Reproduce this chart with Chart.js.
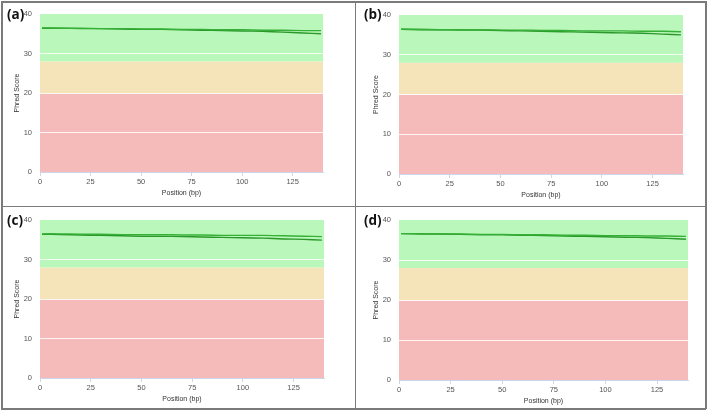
<!DOCTYPE html>
<html>
<head>
<meta charset="utf-8">
<script src="https://cdn.jsdelivr.net/npm/chart.js@4/dist/chart.umd.min.js"></script>
<style>
  html, body { margin: 0; padding: 0; background: #fff; }
  #fig { position: relative; width: 708px; height: 412px; overflow: hidden; }
  .panel { position: absolute; }
  .line { position: absolute; background: #7a7a7a; z-index: 5; }
  .tag { position: absolute; z-index: 6; font: bold 13.5px "Open Sans", "DejaVu Sans", sans-serif; color: #111; line-height: 14px; }
</style>
</head>
<body>
<div id="fig">
  <div class="panel" style="left:0;top:0;width:355px;height:206px"><canvas id="cA"></canvas></div>
  <div class="panel" style="left:355px;top:0;width:353px;height:206px"><canvas id="cB"></canvas></div>
  <div class="panel" style="left:0;top:206px;width:355px;height:206px"><canvas id="cC"></canvas></div>
  <div class="panel" style="left:355px;top:206px;width:353px;height:206px"><canvas id="cD"></canvas></div>

  <div class="line" style="left:1px;top:1px;width:705px;height:1.5px"></div>
  <div class="line" style="left:1px;top:408px;width:705px;height:1.5px"></div>
  <div class="line" style="left:1px;top:1px;width:1.5px;height:408px"></div>
  <div class="line" style="left:705px;top:1px;width:1.5px;height:408px"></div>
  <div class="line" style="left:354.5px;top:1px;width:1.5px;height:408px"></div>
  <div class="line" style="left:1px;top:205.5px;width:705px;height:1.5px"></div>

  <div class="tag" style="left:7px;top:7px">(a)</div>
  <div class="tag" style="left:364px;top:7px">(b)</div>
  <div class="tag" style="left:7px;top:213px">(c)</div>
  <div class="tag" style="left:364px;top:213px">(d)</div>
</div>
<script>
// positions along the read (bp)
const positions = [1, 10, 20, 30, 40, 50, 60, 70, 80, 90, 100, 110, 120, 130, 139];
const xTicks = [0, 25, 50, 75, 100, 125];
const yTicks = [0, 10, 20, 30, 40];

// mean phred score per position, two reads per panel
const aR1 = [36.5, 36.4, 36.4, 36.3, 36.3, 36.2, 36.2, 36.1, 36.1, 36.0, 36.0, 35.9, 35.9, 35.8, 35.8];
const aR2 = [36.4, 36.4, 36.3, 36.3, 36.2, 36.1, 36.1, 36.0, 35.9, 35.8, 35.7, 35.6, 35.4, 35.2, 35.0];
const bR1 = [36.4, 36.4, 36.3, 36.3, 36.3, 36.2, 36.2, 36.1, 36.1, 36.0, 36.0, 36.0, 35.9, 35.9, 35.8];
const bR2 = [36.4, 36.3, 36.3, 36.2, 36.2, 36.1, 36.0, 35.9, 35.8, 35.7, 35.6, 35.5, 35.4, 35.2, 35.0];
const cR1 = [36.5, 36.5, 36.4, 36.4, 36.3, 36.3, 36.3, 36.2, 36.2, 36.1, 36.1, 36.1, 36.0, 35.9, 35.8];
const cR2 = [36.4, 36.3, 36.2, 36.1, 36.0, 35.9, 35.9, 35.8, 35.7, 35.6, 35.5, 35.4, 35.2, 35.1, 34.9];
const dR1 = [36.6, 36.6, 36.5, 36.5, 36.4, 36.4, 36.3, 36.3, 36.2, 36.2, 36.1, 36.1, 36.0, 36.0, 35.9];
const dR2 = [36.6, 36.5, 36.5, 36.4, 36.3, 36.3, 36.2, 36.1, 36.0, 35.9, 35.8, 35.7, 35.6, 35.4, 35.2];

// quality zones (phred)
const bandEdges = [0, 20, 28, 40];
const BAND_COLORS = ['#f5baba', '#f5e3ba', '#baf7ba'];

const bandsPlugin = {
  id: 'bands',
  beforeDraw(chart) {
    const { ctx, chartArea, scales } = chart;
    const y = scales.y;
    ctx.save();
    for (let i = 0; i < bandEdges.length - 1; i++) {
      const top = y.getPixelForValue(bandEdges[i + 1]);
      const bot = y.getPixelForValue(bandEdges[i]);
      ctx.fillStyle = BAND_COLORS[i];
      ctx.fillRect(chartArea.left, top, chartArea.right - chartArea.left, bot - top);
    }
    ctx.restore();
  }
};

const TICK_FONT = { family: '"Liberation Sans", Arial, sans-serif', size: 7.5 };
const TITLE_FONT = { family: '"Liberation Sans", Arial, sans-serif', size: 7 };

function makePanel(id, r1, r2, g) {
  // g: plot area in canvas coords {left, right, top, bottom, w, h}
  const ctx = document.getElementById(id).getContext('2d');
  return new Chart(ctx, {
    type: 'line',
    data: {
      datasets: [
        { label: 'R1', data: positions.map((p, i) => ({ x: p, y: r1[i] })), borderColor: '#36b036', borderWidth: 1.4 },
        { label: 'R2', data: positions.map((p, i) => ({ x: p, y: r2[i] })), borderColor: '#2a982a', borderWidth: 1.4 }
      ]
    },
    options: {
      responsive: true,
      maintainAspectRatio: false,
      animation: false,
      elements: { point: { radius: 0 }, line: { tension: 0.2 } },
      layout: { padding: { left: g.left - 34, right: g.w - g.right, top: g.top, bottom: g.h - g.bottom - 30 } },
      plugins: { legend: { display: false }, tooltip: { enabled: false } },
      scales: {
        x: {
          type: 'linear', min: 0, max: 140,
          afterBuildTicks: s => { s.ticks = xTicks.map(v => ({ value: v })); },
          afterFit: s => { s.height = 30; },
          border: { display: true, color: '#ccd6eb' },
          grid: { drawOnChartArea: false, drawTicks: true, tickLength: 4, color: '#ccd6eb' },
          ticks: { font: TICK_FONT, color: '#555', padding: 1, maxRotation: 0 },
          title: { display: true, text: 'Position (bp)', font: TITLE_FONT, color: '#333', padding: { top: 0, bottom: 5 } }
        },
        y: {
          min: 0, max: 40,
          afterBuildTicks: s => { s.ticks = yTicks.map(v => ({ value: v })); },
          afterFit: s => { s.width = 34; },
          border: { display: false },
          grid: { drawTicks: false, color: c => (c.tick && (c.tick.value === 0 || c.tick.value === 40) ? 'rgba(0,0,0,0)' : 'rgba(255,255,255,0.85)'), lineWidth: 1 },
          ticks: { font: TICK_FONT, color: '#555', padding: 8 },
          title: { display: true, text: 'Phred Score', font: TITLE_FONT, color: '#333', padding: { top: 7, bottom: 0 } }
        }
      }
    },
    plugins: [bandsPlugin]
  });
}

makePanel('cA', aR1, aR2, { left: 40, right: 323, top: 14, bottom: 172, w: 355, h: 206 });
makePanel('cB', bR1, bR2, { left: 44, right: 328, top: 15, bottom: 174, w: 353, h: 206 });
makePanel('cC', cR1, cR2, { left: 40, right: 324, top: 14, bottom: 172, w: 355, h: 206 });
makePanel('cD', dR1, dR2, { left: 44, right: 333, top: 14, bottom: 174, w: 353, h: 206 });
</script>
</body>
</html>
